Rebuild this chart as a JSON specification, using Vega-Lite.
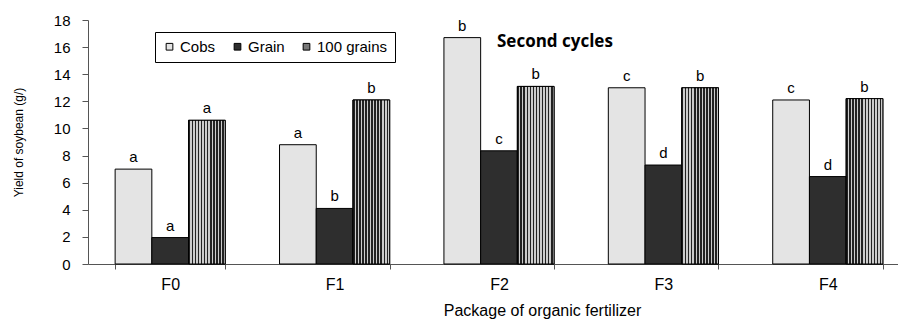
{
  "$schema": "https://vega.github.io/schema/vega-lite/v6.json",
  "autosize": {"type": "none"},
  "padding": {"left": 88, "top": 20, "right": 0, "bottom": 56},
  "width": 810,
  "height": 244,
  "background": "white",
  "config": {
    "view": {"stroke": null},
    "font": "Liberation Sans",
    "axis": {"labelFont": "Liberation Sans", "titleFont": "Liberation Sans", "labelColor": "black", "titleColor": "black", "domainColor": "#555", "tickColor": "#555", "grid": false, "titleFontWeight": "normal"}
  },
  "title": {
    "text": "Second cycles",
    "orient": "top",
    "anchor": "start",
    "frame": "group",
    "offset": 0,
    "dx": 409,
    "dy": 46,
    "baseline": "middle",
    "font": "Open Sans",
    "fontSize": 17,
    "fontWeight": "bold",
    "color": "black"
  },
  "data": {
    "values": [
      {"pkg": "F0", "series": "Cobs", "value": 7.0, "letter": "a"},
      {"pkg": "F0", "series": "Grain", "value": 1.95, "letter": "a"},
      {"pkg": "F0", "series": "100 grains", "value": 10.6, "letter": "a"},
      {"pkg": "F1", "series": "Cobs", "value": 8.8, "letter": "a"},
      {"pkg": "F1", "series": "Grain", "value": 4.1, "letter": "b"},
      {"pkg": "F1", "series": "100 grains", "value": 12.1, "letter": "b"},
      {"pkg": "F2", "series": "Cobs", "value": 16.7, "letter": "b"},
      {"pkg": "F2", "series": "Grain", "value": 8.35, "letter": "c"},
      {"pkg": "F2", "series": "100 grains", "value": 13.1, "letter": "b"},
      {"pkg": "F3", "series": "Cobs", "value": 13.0, "letter": "c"},
      {"pkg": "F3", "series": "Grain", "value": 7.3, "letter": "d"},
      {"pkg": "F3", "series": "100 grains", "value": 13.0, "letter": "b"},
      {"pkg": "F4", "series": "Cobs", "value": 12.1, "letter": "c"},
      {"pkg": "F4", "series": "Grain", "value": 6.45, "letter": "d"},
      {"pkg": "F4", "series": "100 grains", "value": 12.2, "letter": "b"}
    ]
  },
  "encoding": {
    "x": {
      "field": "pkg", "type": "nominal", "sort": ["F0", "F1", "F2", "F3", "F4"],
      "scale": {"range": [0, 822], "paddingInner": 0.33, "paddingOuter": 0.165},
      "axis": {
        "title": "Package of organic fertilizer",
        "labelAngle": 0, "labelFontSize": 16, "labelPadding": 7,
        "tickBand": "extent", "tickSize": 5,
        "titleFontSize": 16, "titleX": 454, "titleY": 51, "titleAlign": "center", "titleBaseline": "alphabetic"
      }
    },
    "xOffset": {"field": "series", "type": "nominal", "scale": {"domain": ["Cobs", "Grain", "100 grains"], "paddingInner": 0, "paddingOuter": 0}},
    "y": {
      "field": "value", "type": "quantitative",
      "scale": {"domain": [0, 18], "nice": false},
      "axis": {
        "title": "Yield of soybean (g/)",
        "values": [0, 2, 4, 6, 8, 10, 12, 14, 16, 18],
        "labelFontSize": 15, "tickSize": 6, "labelPadding": 12,
        "titleFontSize": 12,
        "titleX": -70, "titleY": 122, "titleAngle": 270, "titleAlign": "center", "titleBaseline": "middle"
      }
    }
  },
  "layer": [
    {
      "mark": {"type": "bar", "stroke": "black", "strokeWidth": 1},
      "encoding": {
        "fill": {
          "field": "series", "type": "nominal",
          "scale": {"domain": ["Cobs", "Grain", "100 grains"], "range": ["#e4e4e4", "#2e2e2e", "#777777"]},
          "legend": {
            "title": null, "orient": "none", "legendX": 67, "legendY": 12,
            "direction": "horizontal", "strokeColor": "black", "padding": 7,
            "symbolType": "square", "symbolSize": 45, "symbolStrokeColor": "black", "symbolStrokeWidth": 1,
            "labelFontSize": 15, "labelFont": "Liberation Sans", "labelColor": "black", "labelOffset": 3, "columnPadding": 14, "symbolOffset": 0
          }
        }
      }
    },
    {
      "transform": [{"filter": "datum.series === '100 grains'"}],
      "mark": {
        "type": "bar", "stroke": "black", "strokeWidth": 1,
        "fill": {
          "gradient": "linear", "x1": 0, "x2": 1, "y1": 0, "y2": 0,
          "stops": [
            {"offset": 0.0, "color": "#222"}, {"offset": 0.042, "color": "#222"}, {"offset": 0.042, "color": "#ccc"}, {"offset": 0.083, "color": "#ccc"},
            {"offset": 0.083, "color": "#222"}, {"offset": 0.125, "color": "#222"}, {"offset": 0.125, "color": "#ccc"}, {"offset": 0.167, "color": "#ccc"},
            {"offset": 0.167, "color": "#222"}, {"offset": 0.208, "color": "#222"}, {"offset": 0.208, "color": "#ccc"}, {"offset": 0.25, "color": "#ccc"},
            {"offset": 0.25, "color": "#222"}, {"offset": 0.292, "color": "#222"}, {"offset": 0.292, "color": "#ccc"}, {"offset": 0.333, "color": "#ccc"},
            {"offset": 0.333, "color": "#222"}, {"offset": 0.375, "color": "#222"}, {"offset": 0.375, "color": "#ccc"}, {"offset": 0.417, "color": "#ccc"},
            {"offset": 0.417, "color": "#222"}, {"offset": 0.458, "color": "#222"}, {"offset": 0.458, "color": "#ccc"}, {"offset": 0.5, "color": "#ccc"},
            {"offset": 0.5, "color": "#222"}, {"offset": 0.542, "color": "#222"}, {"offset": 0.542, "color": "#ccc"}, {"offset": 0.583, "color": "#ccc"},
            {"offset": 0.583, "color": "#222"}, {"offset": 0.625, "color": "#222"}, {"offset": 0.625, "color": "#ccc"}, {"offset": 0.667, "color": "#ccc"},
            {"offset": 0.667, "color": "#222"}, {"offset": 0.708, "color": "#222"}, {"offset": 0.708, "color": "#ccc"}, {"offset": 0.75, "color": "#ccc"},
            {"offset": 0.75, "color": "#222"}, {"offset": 0.792, "color": "#222"}, {"offset": 0.792, "color": "#ccc"}, {"offset": 0.833, "color": "#ccc"},
            {"offset": 0.833, "color": "#222"}, {"offset": 0.875, "color": "#222"}, {"offset": 0.875, "color": "#ccc"}, {"offset": 0.917, "color": "#ccc"},
            {"offset": 0.917, "color": "#222"}, {"offset": 0.958, "color": "#222"}, {"offset": 0.958, "color": "#ccc"}, {"offset": 1.0, "color": "#ccc"}
          ]
        }
      }
    },
    {
      "mark": {"type": "text", "baseline": "alphabetic", "dy": -7, "fontSize": 15, "font": "Liberation Sans", "color": "black"},
      "encoding": {"text": {"field": "letter"}}
    }
  ]
}
